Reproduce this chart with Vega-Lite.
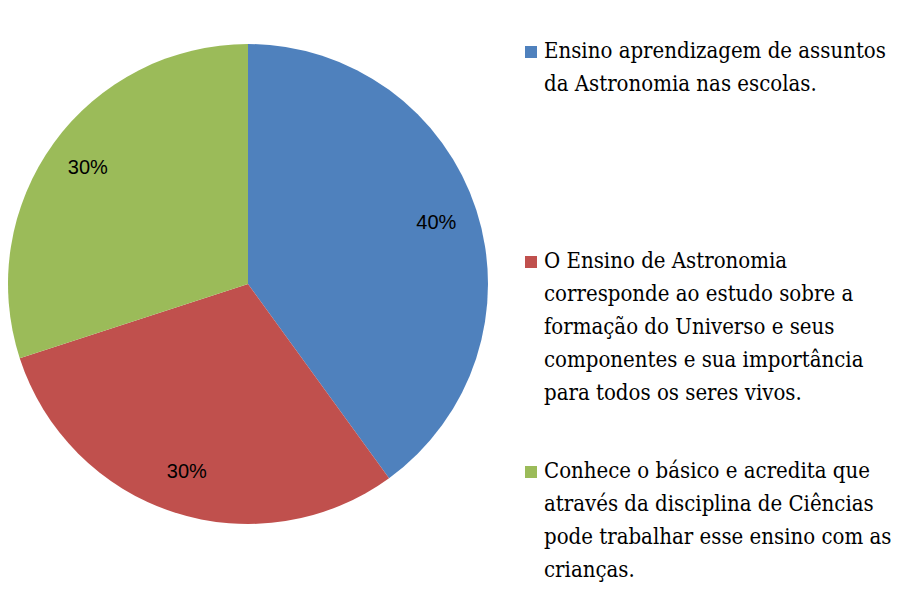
{
  "$schema": "https://vega.github.io/schema/vega-lite/v6.json",
  "width": 496,
  "height": 568,
  "autosize": "none",
  "padding": {"left": 0, "top": 0, "right": 403, "bottom": 24},
  "background": "white",
  "config": {"view": {"stroke": null}},
  "data": {
    "values": [
      {"categoria": "Ensino aprendizagem de assuntos|da Astronomia nas escolas.||||", "valor": 40, "ordem": 1, "rotulo": "40%"},
      {"categoria": "O Ensino de Astronomia|corresponde ao estudo sobre a|formação do Universo e seus|componentes e sua importância|para todos os seres vivos.|", "valor": 30, "ordem": 2, "rotulo": "30%"},
      {"categoria": "Conhece o básico e acredita que|através da disciplina de Ciências|pode  trabalhar esse ensino com as|crianças.", "valor": 30, "ordem": 3, "rotulo": "30%"}
    ]
  },
  "encoding": {
    "theta": {"field": "valor", "type": "quantitative", "stack": true},
    "order": {"field": "ordem", "type": "quantitative", "sort": "ascending"}
  },
  "layer": [
    {
      "mark": {"type": "arc", "radius": 240},
      "encoding": {
        "color": {
          "field": "categoria",
          "type": "nominal",
          "sort": null,
          "scale": {
            "domain": [
              "Ensino aprendizagem de assuntos|da Astronomia nas escolas.||||",
              "O Ensino de Astronomia|corresponde ao estudo sobre a|formação do Universo e seus|componentes e sua importância|para todos os seres vivos.|",
              "Conhece o básico e acredita que|através da disciplina de Ciências|pode  trabalhar esse ensino com as|crianças."
            ],
            "range": ["#4F81BD", "#C0504D", "#9BBB59"]
          },
          "legend": {
            "title": null,
            "orient": "none",
            "legendX": 520,
            "legendY": 41,
            "padding": 0,
            "symbolType": "square",
            "symbolSize": 144,
            "symbolStrokeWidth": 0,
            "labelFont": "DejaVu Serif Condensed",
            "labelFontSize": 22,
            "labelColor": "#000000",
            "labelLimit": 500,
            "labelOffset": 2,
            "labelBaseline": "top",
            "rowPadding": 23,
            "labelExpr": "split(datum.label, '|')",
            "encode": {"labels": {"update": {"lineHeight": {"value": 33}, "dy": {"value": -11}}}}
          }
        }
      }
    },
    {
      "mark": {"type": "text", "radius": 198, "font": "Liberation Sans", "fontSize": 20, "color": "#000000"},
      "encoding": {"text": {"field": "rotulo"}}
    }
  ]
}
